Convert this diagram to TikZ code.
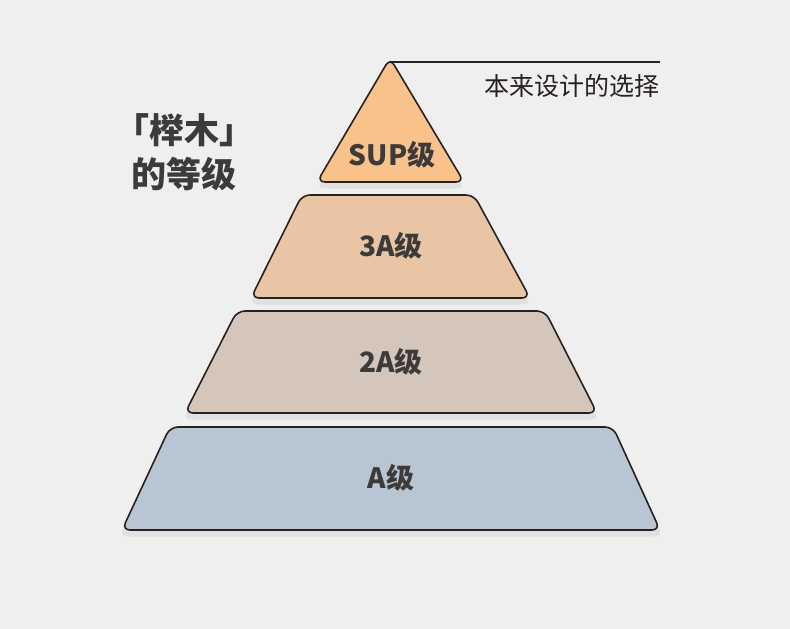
\documentclass[tikz,border=0pt]{standalone}
\usepackage{fontspec}
\setmainfont{Noto Sans CJK SC}
\usetikzlibrary{shadows}
\definecolor{paper}{RGB}{239,239,239}
\definecolor{ink}{RGB}{40,33,32}
\definecolor{label}{RGB}{61,58,58}
\definecolor{peach}{RGB}{249,194,139}
\definecolor{tan}{RGB}{233,197,165}
\definecolor{taupe}{RGB}{213,198,188}
\definecolor{slate}{RGB}{184,197,210}
\tikzset{
  tier/.style={draw=ink,line width=1.6pt,fill=#1,rounded corners=8pt,line join=round,
    drop shadow={opacity=0.12,shadow xshift=0pt,shadow yshift=-6pt,shadow scale=1.01}},
  tier/.default=slate,
  grade/.style={font=\fontsize{28}{32}\selectfont\bfseries,text=label,inner sep=0pt},
}
\begin{document}
\begin{tikzpicture}[x=1pt,y=-1pt]
  \fill[paper] (0,0) rectangle (790,629);
  \useasboundingbox (0,0) rectangle (790,629);
  % the four grades, top to bottom
  \draw[tier=peach] (390,58) -- (464,182) -- (317,182) -- cycle;
  \draw[tier=tan] (302,195) -- (474,195) -- (530,298) -- (251,298) -- cycle;
  \draw[tier=taupe] (237,311) -- (545,311) -- (597,413) -- (185,413) -- cycle;
  \draw[tier=slate] (170,427) -- (613,427) -- (660,530) -- (122,530) -- cycle;
  \node[grade] (sup) at (392,155) {SUP级};
  \node[grade] (aaa) at (391,246) {3A级};
  \node[grade] (aa) at (391,362) {2A级};
  \node[grade] (a) at (391,478) {A级};
  % note at the apex
  \coordinate (apex) at (389,62);
  \node[anchor=east,inner sep=0pt,font=\fontsize{25}{30}\selectfont,text=ink] (note) at (660,86) {本来设计的选择};
  \draw[ink,line width=1.5pt] (apex) -- (apex -| note.east);
  \node[align=center,inner sep=0pt,font=\fontsize{35}{44}\selectfont\bfseries,text=label] (title) at (184,152) {「榉木」\\的等级};
\end{tikzpicture}
\end{document}
